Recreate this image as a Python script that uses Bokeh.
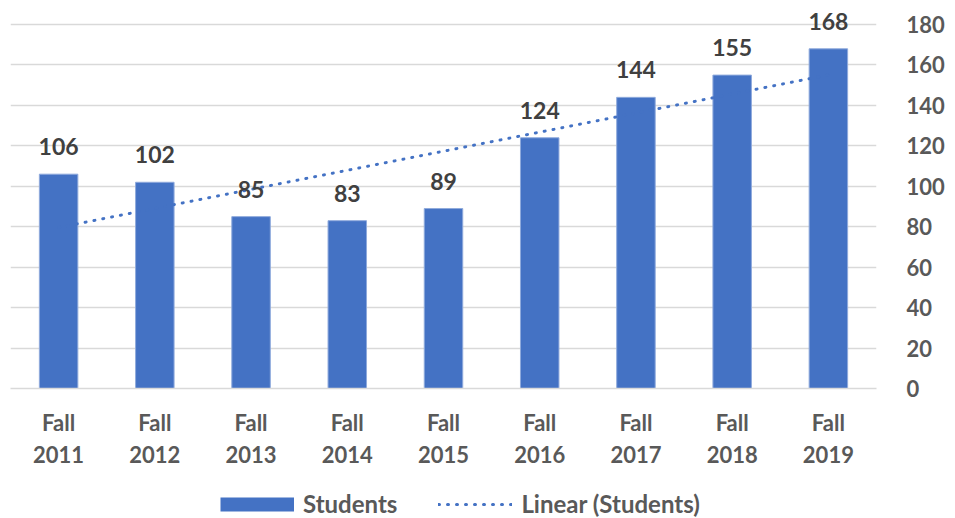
import numpy as np
from bokeh.plotting import figure
from bokeh.layouts import column
from bokeh.models import (ColumnDataSource, LinearAxis, FixedTicker, Range1d,
                          Legend, LegendItem, LabelSet)
from bokeh.core.properties import value
from bokeh.embed import file_html
from bokeh.resources import INLINE

categories = ["Fall\n2011", "Fall\n2012", "Fall\n2013", "Fall\n2014", "Fall\n2015",
              "Fall\n2016", "Fall\n2017", "Fall\n2018", "Fall\n2019"]
students = [106, 102, 85, 83, 89, 124, 144, 155, 168]
y_ticks = [0, 20, 40, 60, 80, 100, 120, 140, 160, 180]
series_name = "Students"
trend_name = "Linear (Students)"

# linear trendline (least squares) of the series
xs = np.arange(1, len(students) + 1)
slope, intercept = np.polyfit(xs, students, 1)
trend = list(slope * xs + intercept)

FONT = "Lato"
BLUE = "#4472C4"
GREY = "#595959"

src = ColumnDataSource(dict(cat=categories, val=students,
                            lab=[str(v) for v in students], trend=trend))

p = figure(width=955, height=480, x_range=categories, y_range=Range1d(0, 191.9),
           output_backend="svg", toolbar_location=None, y_axis_location=None,
           min_border_left=10, min_border_right=79, min_border_top=0,
           min_border_bottom=92)
p.outline_line_color = None
p.background_fill_color = "white"

bars = p.vbar(x="cat", top="val", width=0.4, source=src, fill_color=BLUE,
              line_color="#8FAADC", line_width=1)
tl = p.line(x="cat", y="trend", source=src, line_color=BLUE, line_width=3,
            line_dash="1 8", line_cap="round")

labels = LabelSet(x="cat", y="val", text="lab", source=src, text_align="center",
                  text_baseline="alphabetic", y_offset=19,
                  text_font=value(FONT), text_font_style="bold",
                  text_font_size="23px", text_color="#404040")
p.add_layout(labels)

yaxis = LinearAxis(ticker=FixedTicker(ticks=y_ticks))
yaxis.axis_line_color = None
yaxis.major_tick_line_color = None
yaxis.minor_tick_line_color = None
yaxis.major_label_standoff = 24
yaxis.major_label_text_font = FONT
yaxis.major_label_text_font_style = "bold"
yaxis.major_label_text_font_size = "22px"
yaxis.major_label_text_color = GREY
p.add_layout(yaxis, "right")

p.ygrid.ticker = FixedTicker(ticks=y_ticks)
p.ygrid.grid_line_color = "#D9D9D9"
p.ygrid.grid_line_width = 1.5
p.xgrid.grid_line_color = None

xa = p.xaxis[0]
xa.axis_line_color = "#D9D9D9"
xa.axis_line_width = 1.5
xa.major_tick_line_color = None
xa.minor_tick_line_color = None
xa.major_label_standoff = 14
xa.major_label_text_font = FONT
xa.major_label_text_font_style = "bold"
xa.major_label_text_font_size = "22px"
xa.major_label_text_color = GREY
xa.major_label_text_line_height = 1.2

# legend strip under the chart (proxy renderers lie outside the visible range)
lg = figure(width=955, height=38, x_range=Range1d(0, 1), y_range=Range1d(0, 1),
            output_backend="svg", toolbar_location=None,
            min_border_left=0, min_border_right=0, min_border_top=0,
            min_border_bottom=0)
lg.axis.visible = False
lg.grid.visible = False
lg.outline_line_color = None
proxy = ColumnDataSource(dict(x=[-10, -9], y=[-10, -10]))
r_bar = lg.line(x="x", y="y", source=proxy, line_color=BLUE, line_width=14,
                line_cap="butt")
r_trend = lg.line(x="x", y="y", source=proxy, line_color=BLUE, line_width=3,
                  line_dash="1 8", line_cap="round")
legend = Legend(items=[LegendItem(label=series_name, renderers=[r_bar]),
                       LegendItem(label=trend_name, renderers=[r_trend])],
                orientation="horizontal", location=(210, 0),
                glyph_width=74, glyph_height=18, label_standoff=9, spacing=41,
                label_text_font=FONT, label_text_font_style="bold",
                label_text_font_size="24px", label_text_color=GREY,
                border_line_color=None, background_fill_alpha=0, padding=0,
                margin=0)
lg.add_layout(legend)

layout = column(p, lg, spacing=0)
open("out.html", "w").write(file_html(layout, INLINE))
